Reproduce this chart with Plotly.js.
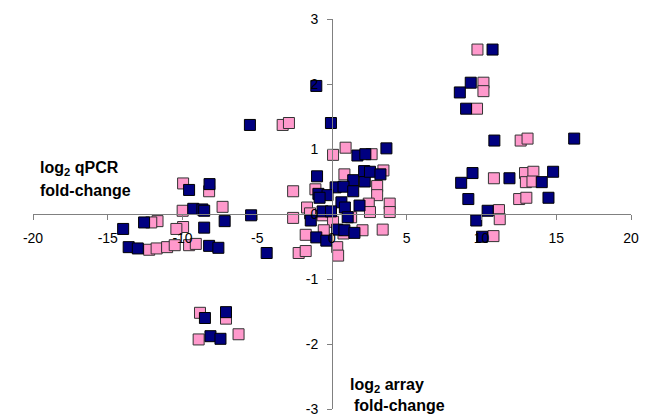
<!DOCTYPE html>
<html>
<head>
<meta charset="utf-8">
<script src="https://cdn.plot.ly/plotly-3.0.1.min.js"></script>
<style>html,body{margin:0;padding:0;background:#fff;}#chart{width:654px;height:417px;}</style>
</head>
<body>
<div id="chart"></div>
<script>
// Navy series (log2 array fold-change, log2 qPCR fold-change)
var navyX = [10.74, 9.28, 8.55, 8.97, 10.86, 16.2, 9.4, 8.64, 11.87, 14.79, 14.03, 9.12, 14.48, 10.41, 9.65, 10.04,
  -1.05, -5.49, -0.07, 3.64, 1.7, 2.23, -1.0, 1.42, 2.19, 2.15, 2.54, 3.24, 0.24, 0.77, 1.42, -0.91, -0.3, -0.83,
  0.63, 1.84, 0.86, -0.63, -0.07, -1.42, 1.05, 0.35, 0.83, 1.5, -1.05, -0.38, -4.37, -5.41,
  -9.56, -8.19, -9.28, -8.67, -8.55, -7.18, -8.55, -13.97, -12.57, -13.6, -12.99, -8.22, -7.6,
  -8.5, -7.09, -8.13, -7.46];
var navyY = [2.53, 2.02, 1.87, 1.62, 1.13, 1.16, 0.63, 0.48, 0.55, 0.65, 0.49, 0.23, 0.25, 0.05, -0.10, -0.35,
  1.97, 1.37, 1.40, 1.01, 0.90, 0.92, 0.58, 0.52, 0.50, 0.66, 0.65, 0.61, 0.41, 0.42, 0.35, 0.31, 0.29, 0.25,
  0.18, 0.13, 0.10, 0.04, 0.04, -0.10, -0.05, -0.24, -0.25, -0.29, -0.36, -0.41, -0.60, -0.02,
  0.37, 0.46, 0.08, 0.07, 0.05, -0.11, -0.21, -0.23, -0.13, -0.51, -0.53, -0.49, -0.52,
  -1.60, -1.51, -1.88, -1.92];
// Pink series
var pinkX = [9.73, 10.13, 10.13, 9.7, 12.62, 13.08, 10.83, 12.91, 13.47, 12.97, 13.41, 12.52, 13.0, 11.17, 11.22, 10.8,
  -3.3, -2.88, 0.91, 0.07, 2.65, 0.83, 2.19, 3.44, -1.11, -2.6, 3.02, 3.02, 3.86, 3.86, 2.46, 2.54, -1.67, -1.47,
  -2.6, -0.63, 0.07, 1.28, -0.55, -1.76, 0.77, 2.04, 3.39, -2.23, -1.76, 0.35, 0.41,
  -9.96, -8.22, -7.32, -9.99, -11.67, -12.09, -9.96, -10.41, -12.23, -11.73, -11.03, -10.52, -9.56, -9.11,
  -8.83, -7.09, -8.92, -6.25];
var pinkY = [2.53, 2.02, 1.89, 1.62, 1.13, 1.16, 0.55, 0.63, 0.65, 0.49, 0.50, 0.23, 0.25, 0.06, -0.08, -0.34,
  1.37, 1.40, 1.02, 0.91, 0.92, 0.61, 0.65, 0.67, 0.38, 0.35, 0.43, 0.29, 0.16, 0.03, 0.16, 0.03, 0.10, 0.01,
  -0.06, -0.02, -0.12, -0.05, -0.25, -0.32, -0.30, -0.25, -0.24, -0.60, -0.57, -0.51, -0.64,
  0.47, 0.35, 0.11, 0.05, -0.11, -0.13, -0.20, -0.23, -0.55, -0.53, -0.51, -0.48, -0.48, -0.46,
  -1.52, -1.61, -1.93, -1.85];
var xTicks = [-20, -15, -10, -5, 0, 5, 10, 15, 20];
var yTicks = [-3, -2, -1, 0, 1, 2, 3];

var traces = [
  {x: pinkX, y: pinkY, type: 'scatter', mode: 'markers', name: 'pink',
   marker: {symbol: 'square', size: 11, color: '#FF99CC', line: {color: '#333333', width: 1}}},
  {x: navyX, y: navyY, type: 'scatter', mode: 'markers', name: 'navy',
   marker: {symbol: 'square', size: 11, color: '#000080', line: {color: '#000000', width: 1}}}
];
var tickFont = {family: 'Arial, Liberation Sans, sans-serif', size: 14, color: '#000'};
var labFont = {family: 'Arial, Liberation Sans, sans-serif', size: 16, color: '#000', weight: 'bold'};
var layout = {
  width: 654, height: 417,
  margin: {l: 33, r: 23, t: 19, b: 8},
  paper_bgcolor: '#fff', plot_bgcolor: '#fff',
  showlegend: false,
  font: tickFont,
  xaxis: {range: [-20, 20], tickvals: xTicks, ticktext: xTicks.map(String), anchor: 'free', position: 0.5,
    showline: true, linecolor: '#808080', linewidth: 1, ticks: 'outside', ticklen: 5, tickcolor: '#808080',
    showgrid: false, zeroline: false, tickfont: tickFont, ticklabelstandoff: 6},
  yaxis: {range: [-3, 3], tickvals: yTicks, ticktext: yTicks.map(String), anchor: 'free', position: 0.5,
    showline: true, linecolor: '#808080', linewidth: 1, ticks: 'outside', ticklen: 5, tickcolor: '#808080',
    showgrid: false, zeroline: false, tickfont: tickFont, ticklabelstandoff: 6},
  annotations: [
    {xref: 'paper', yref: 'paper', x: (38 - 33) / 598, y: (417 - 8 - 168) / 390, xanchor: 'left', yanchor: 'middle',
     text: 'log<sub>2</sub> qPCR', showarrow: false, font: labFont},
    {xref: 'paper', yref: 'paper', x: (38 - 33) / 598, y: (417 - 8 - 190) / 390, xanchor: 'left', yanchor: 'middle',
     text: 'fold-change', showarrow: false, font: labFont},
    {xref: 'paper', yref: 'paper', x: (348 - 33) / 598, y: (417 - 8 - 385) / 390, xanchor: 'left', yanchor: 'middle',
     text: 'log<sub>2</sub> array', showarrow: false, font: labFont},
    {xref: 'paper', yref: 'paper', x: (352 - 33) / 598, y: (417 - 8 - 405) / 390, xanchor: 'left', yanchor: 'middle',
     text: 'fold-change', showarrow: false, font: labFont}
  ]
};
Plotly.newPlot('chart', traces, layout, {displayModeBar: false, staticPlot: true});
</script>
</body>
</html>
